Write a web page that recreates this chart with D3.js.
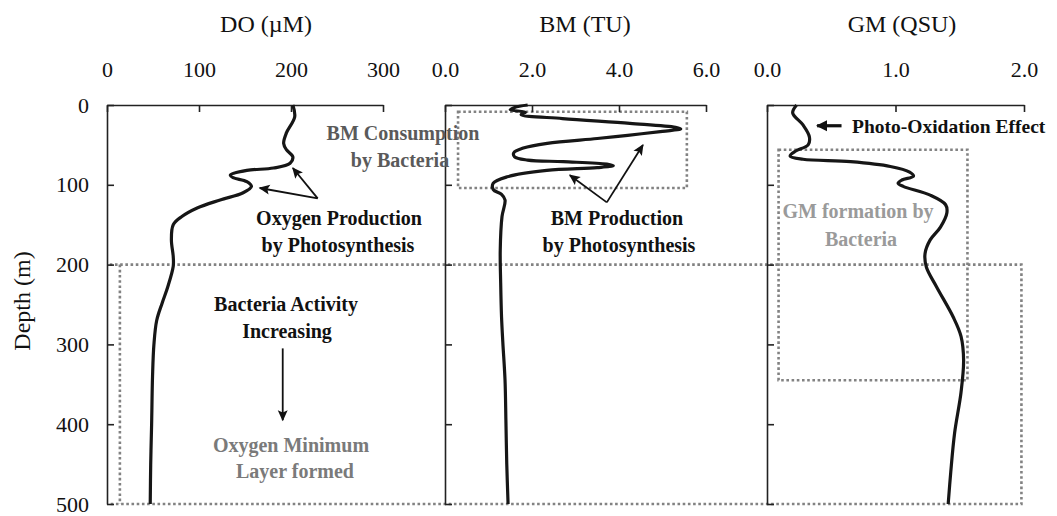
<!DOCTYPE html>
<html>
<head>
<meta charset="utf-8">
<script src="https://d3js.org/d3.v7.min.js"></script>
<style>
  body { margin: 0; background: #fff; }
  svg { display: block; font-family: "Liberation Serif", "Times New Roman", serif; }
</style>
</head>
<body>
<svg width="1057" height="516"></svg>
<script>
// tick values
const depthTicks = [0, 100, 200, 300, 400, 500];
const doTicks = [0, 100, 200, 300];
const bmTicks = [0, 2, 4, 6];
const gmTicks = [0, 1, 2];

// DO profile (uM vs depth m)
const doDepth = [0, 15, 35, 48, 56, 65, 73, 79, 82, 88, 91, 96, 102, 110, 119, 129, 140, 150, 169, 190, 202, 228, 248, 270, 300, 340, 400, 450, 500];
const doValue = [202, 204, 195, 192, 195, 202, 199, 181, 152, 134, 137, 152, 157, 148, 123, 98, 81, 72, 70, 72, 72, 66, 60, 54, 51, 49.5, 48.5, 47.5, 47];

// BM profile (TU vs depth m)
const bmDepth = [0, 3, 6, 9, 12, 17, 23, 28, 30, 33, 38, 42, 48, 54, 60, 65, 69, 71, 74, 76, 78.5, 82, 90, 98, 106, 112, 119, 140, 182, 223, 266, 298, 345, 395, 450, 500];
const bmValue = [1.9, 1.6, 1.5, 1.85, 1.75, 2.7, 4.25, 5.3, 5.42, 5.0, 4.2, 3.5, 2.35, 1.8, 1.58, 1.6, 1.9, 2.72, 3.72, 3.87, 3.5, 2.34, 1.43, 1.11, 1.11, 1.3, 1.38, 1.31, 1.27, 1.28, 1.3, 1.33, 1.38, 1.4, 1.42, 1.45];

// GM profile (QSU vs depth m)
const gmDepth = [0, 10, 25, 40, 50, 58, 64, 68, 71, 77, 84, 89, 94, 98, 102, 113, 125, 135, 153, 169, 186, 203, 228, 266, 290, 320, 360, 411, 460, 500];
const gmValue = [0.23, 0.2, 0.28, 0.33, 0.32, 0.22, 0.18, 0.28, 0.65, 0.96, 1.11, 1.14, 1.05, 1.02, 1.06, 1.27, 1.39, 1.4, 1.35, 1.27, 1.23, 1.24, 1.32, 1.45, 1.51, 1.53, 1.51, 1.46, 1.43, 1.41];

const svg = d3.select("svg");

const y = d3.scaleLinear().domain([0, 500]).range([105, 504]);
const xDO = d3.scaleLinear().domain([0, 300]).range([107, 383]);
const xBM = d3.scaleLinear().domain([0, 6]).range([445, 706]);
const xGM = d3.scaleLinear().domain([0, 2]).range([767, 1024]);

const panels = [
  { x: xDO, ticks: doTicks, fmt: d3.format("d"), depth: doDepth, value: doValue, labels: true },
  { x: xBM, ticks: bmTicks, fmt: d3.format(".1f"), depth: bmDepth, value: bmValue, labels: false },
  { x: xGM, ticks: gmTicks, fmt: d3.format(".1f"), depth: gmDepth, value: gmValue, labels: false }
];

const dotted = g => g.attr("fill", "none").attr("stroke", "#828282")
  .attr("stroke-width", 2.6).attr("stroke-dasharray", "2.6,2.6");

// dotted boxes (drawn first so axes sit on top)
const boxes = svg.append("g");
// big box: bacteria activity zone 200-500 m
boxes.append("path").call(dotted)
  .attr("d", `M${xDO(3)},${y(200)}H${xGM(1.98)}V${y(500)}H${xDO(3)}M${xDO(14)},${y(200)}V${y(500)}`);
// BM box
boxes.append("rect").call(dotted)
  .attr("x", xBM(0.3)).attr("y", y(8.5))
  .attr("width", xBM(5.56) - xBM(0.3)).attr("height", y(104) - y(8.5));
// GM box
boxes.append("rect").call(dotted)
  .attr("x", xGM(0.09)).attr("y", y(56))
  .attr("width", xGM(1.56) - xGM(0.09)).attr("height", y(345) - y(56));

panels.forEach(p => {
  const top = svg.append("g")
    .attr("transform", `translate(0,${y(0)})`)
    .call(d3.axisTop(p.x).tickValues(p.ticks).tickFormat(p.fmt)
      .tickSizeInner(-7).tickSizeOuter(0).tickPadding(28));
  const left = svg.append("g")
    .attr("transform", `translate(${p.x(0)},0)`)
    .call(d3.axisLeft(y).tickValues(depthTicks).tickFormat(p.labels ? d3.format("d") : "")
      .tickSizeInner(-7).tickSizeOuter(0).tickPadding(18));
  [top, left].forEach(a => {
    a.attr("font-family", null).attr("font-size", 22);
    a.selectAll("path, line").attr("stroke", "#222").attr("stroke-width", 1.6);
    a.selectAll("text").attr("fill", "#111");
  });

  const line = d3.line()
    .x((d, i) => p.x(p.value[i]))
    .y(d => y(d))
    .curve(d3.curveCatmullRom.alpha(0.5));
  svg.append("path")
    .datum(p.depth)
    .attr("fill", "none")
    .attr("stroke", "#161616")
    .attr("stroke-width", 3.2)
    .attr("stroke-linejoin", "round")
    .attr("d", line);
});

// titles
const titles = [
  { text: "DO (\u00b5M)", x: 266 },
  { text: "BM (TU)", x: 585 },
  { text: "GM (QSU)", x: 902 }
];
svg.selectAll(".title").data(titles).join("text")
  .attr("x", d => d.x).attr("y", 32)
  .attr("text-anchor", "middle").attr("font-size", 24).attr("fill", "#111")
  .text(d => d.text);

svg.append("text")
  .attr("transform", "translate(30,301) rotate(-90)")
  .attr("text-anchor", "middle").attr("font-size", 24).attr("fill", "#111")
  .text("Depth (m)");

// arrows
const defs = svg.append("defs");
defs.append("marker")
  .attr("id", "head").attr("viewBox", "0 0 10 10")
  .attr("refX", 9).attr("refY", 5)
  .attr("markerWidth", 12).attr("markerHeight", 11)
  .attr("markerUnits", "userSpaceOnUse")
  .attr("orient", "auto")
  .append("path").attr("d", "M0,0.5L10,5L0,9.5L2,5Z").attr("fill", "#111");
defs.append("marker")
  .attr("id", "bighead").attr("viewBox", "0 0 10 10")
  .attr("refX", 9).attr("refY", 5)
  .attr("markerWidth", 11).attr("markerHeight", 12)
  .attr("markerUnits", "userSpaceOnUse")
  .attr("orient", "auto")
  .append("path").attr("d", "M0,0L10,5L0,10Z").attr("fill", "#111");

const arrows = [
  [xDO(229), y(117), xDO(202), y(79)],
  [xDO(229), y(117), xDO(166), y(104)],
  [xDO(191), y(305), xDO(191), y(395)],
  [xBM(3.72), y(122), xBM(2.87), y(88)],
  [xBM(3.72), y(122), xBM(4.55), y(50)]
];
svg.selectAll(".arrow").data(arrows).join("line")
  .attr("x1", d => d[0]).attr("y1", d => d[1])
  .attr("x2", d => d[2]).attr("y2", d => d[3])
  .attr("stroke", "#111").attr("stroke-width", 1.8)
  .attr("marker-end", "url(#head)");

svg.append("line")
  .attr("x1", xGM(0.58)).attr("y1", y(26))
  .attr("x2", xGM(0.39)).attr("y2", y(26))
  .attr("stroke", "#111").attr("stroke-width", 3.2)
  .attr("marker-end", "url(#bighead)");

// annotation text
const notes = [
  { t: "Oxygen Production", x: 339, y: 225, c: "#111" },
  { t: "by Photosynthesis", x: 338, y: 252, c: "#111" },
  { t: "Bacteria Activity", x: 286, y: 311, c: "#111" },
  { t: "Increasing", x: 287, y: 338, c: "#111" },
  { t: "Oxygen Minimum", x: 291, y: 452, c: "#7a7a7a" },
  { t: "Layer formed", x: 295, y: 478, c: "#7a7a7a" },
  { t: "BM Consumption", x: 403, y: 140, c: "#5a5a5a" },
  { t: "by Bacteria", x: 400, y: 167, c: "#5a5a5a" },
  { t: "BM Production", x: 617, y: 225, c: "#111" },
  { t: "by Photosynthesis", x: 619, y: 252, c: "#111" },
  { t: "GM formation by", x: 858, y: 218, c: "#9a9a9a" },
  { t: "Bacteria", x: 861, y: 246, c: "#9a9a9a" }
];
svg.selectAll(".note").data(notes).join("text")
  .attr("x", d => d.x).attr("y", d => d.y)
  .attr("text-anchor", "middle").attr("font-size", 20).attr("font-weight", "bold")
  .attr("fill", d => d.c)
  .text(d => d.t);

svg.append("text")
  .attr("x", 852).attr("y", 133)
  .attr("font-size", 19.5).attr("font-weight", "bold").attr("fill", "#111")
  .text("Photo-Oxidation Effect");
</script>
</body>
</html>
